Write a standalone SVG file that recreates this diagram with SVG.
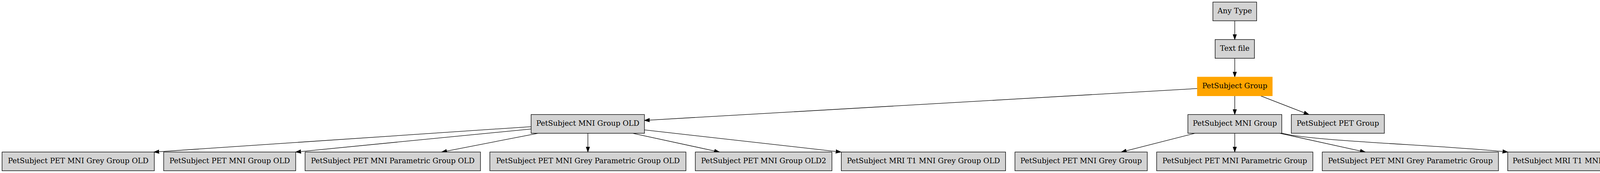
<svg xmlns="http://www.w3.org/2000/svg" width="4236" height="443" viewBox="0 0 4236 443">
<style>
.n rect{fill:#d3d3d3;stroke:#000;stroke-width:1.33}
.n.o rect{fill:#ffa500;stroke:#ffa500}
.n text{font-family:"DejaVu Serif",serif;font-size:18.67px;text-anchor:middle;fill:#000}
.e path{fill:none;stroke:#000;stroke-width:1.33;marker-end:url(#a)}
</style>
<defs>
<marker id="a" markerUnits="userSpaceOnUse" markerWidth="16" markerHeight="12" refX="13.33" refY="5" orient="auto" viewBox="0 0 16 10">
<path d="M0,0.33 L13.33,5 L0,9.67 Z" fill="#000" stroke="#000" stroke-width="1"/>
</marker>
</defs>
<rect width="4236" height="443" fill="#fff"/>
<g class="e" id="edges">
<path d="M3161,53.33 L3161,101.33"/>
<path d="M3161,149.33 L3161,197.33"/>
<path d="M3065.3,226.7 L1649.7,308.3"/>
<path d="M3161,245.33 L3161,293.33"/>
<path d="M3227.7,245.7 L3350.8,293.3"/>
<path d="M1359.6,324.3 L394,389.3"/>
<path d="M1359.6,330.3 L757,389.3"/>
<path d="M1377.4,341.3 L1130.7,389.3"/>
<path d="M1505,341.3 L1505,389.3"/>
<path d="M1619.8,341.3 L1841.7,389.3"/>
<path d="M1649.7,332.7 L2153,389.3"/>
<path d="M3059,341.3 L2870.5,389.3"/>
<path d="M3161,341.3 L3161,389.3"/>
<path d="M3276,341.3 L3495,389.3"/>
<path d="M3281.4,341 C3360,362 3700,372 3860,389.3"/>
</g>
<g class="n" id="any_type"><rect x="3105" y="5.33" width="112" height="48"/><text x="3161" y="34.4">Any Type</text></g>
<g class="n" id="text_file"><rect x="3110.7" y="101.33" width="100.7" height="48"/><text x="3161" y="130.4">Text file</text></g>
<g class="n o" id="petsubject_group"><rect x="3065.3" y="197.33" width="191.7" height="48"/><text x="3161" y="226.4">PetSubject Group</text></g>
<g class="n" id="mni_group_old"><rect x="1359.6" y="293.33" width="290.1" height="48"/><text x="1504.7" y="322.4">PetSubject MNI Group OLD</text></g>
<g class="n" id="mni_group"><rect x="3041" y="293.33" width="240.4" height="48"/><text x="3161.2" y="322.4">PetSubject MNI Group</text></g>
<g class="n" id="pet_group"><rect x="3305.8" y="293.33" width="238.1" height="48"/><text x="3424.9" y="322.4">PetSubject PET Group</text></g>
<g class="n" id="b1"><rect x="5.33" y="389.33" width="389.7" height="48"/><text x="200.2" y="418.4">PetSubject PET MNI Grey Group OLD</text></g>
<g class="n" id="b2"><rect x="419" y="389.33" width="338" height="48"/><text x="588" y="418.4">PetSubject PET MNI Group OLD</text></g>
<g class="n" id="b3"><rect x="781" y="389.33" width="449" height="48"/><text x="1005.5" y="418.4">PetSubject PET MNI Parametric Group OLD</text></g>
<g class="n" id="b4"><rect x="1254" y="389.33" width="502" height="48"/><text x="1505" y="418.4">PetSubject PET MNI Grey Parametric Group OLD</text></g>
<g class="n" id="b5"><rect x="1780" y="389.33" width="349.7" height="48"/><text x="1954.85" y="418.4">PetSubject PET MNI Group OLD2</text></g>
<g class="n" id="b6"><rect x="2153.7" y="389.33" width="420.6" height="48"/><text x="2364" y="418.4">PetSubject MRI T1 MNI Grey Group OLD</text></g>
<g class="n" id="b7"><rect x="2598.3" y="389.33" width="338.7" height="48"/><text x="2767.65" y="418.4">PetSubject PET MNI Grey Group</text></g>
<g class="n" id="b8"><rect x="2961" y="389.33" width="400" height="48"/><text x="3161" y="418.4">PetSubject PET MNI Parametric Group</text></g>
<g class="n" id="b9"><rect x="3385" y="389.33" width="451" height="48"/><text x="3610.5" y="418.4">PetSubject PET MNI Grey Parametric Group</text></g>
<g class="n" id="b10"><rect x="3859.7" y="389.33" width="361.3" height="48"/><text x="4044" y="418.4">PetSubject MRI T1 MNI Grey Group</text></g>
</svg>
